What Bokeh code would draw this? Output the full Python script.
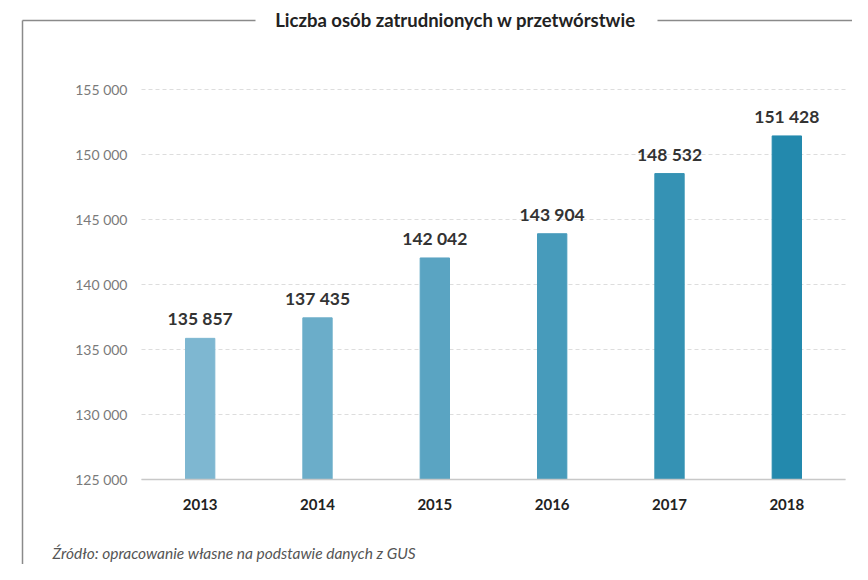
from bokeh.plotting import figure
from bokeh.models import (ColumnDataSource, FixedTicker, Label, PolyAnnotation, Range1d, LinearAxis)
from bokeh.core.properties import value
from bokeh.embed import file_html
from bokeh.resources import INLINE

years = ["2013", "2014", "2015", "2016", "2017", "2018"]
employed = [135857, 137435, 142042, 143904, 148532, 151428]
value_labels = ["135 857", "137 435", "142 042", "143 904", "148 532", "151 428"]
bar_colors = ["#7eb7d1", "#6badc9", "#5aa4c2", "#479bbb", "#3592b4", "#2389ad"]
y_ticks = [125000, 130000, 135000, 140000, 145000, 150000, 155000]
y_tick_labels = ["125 000", "130 000", "135 000", "140 000", "145 000", "150 000", "155 000"]
title_text = "Liczba osób zatrudnionych w przetwórstwie"
source_text = "Źródło: opracowanie własne na podstawie danych z GUS"

FONT = "Lato"
W, H = 852, 564

# layout of the plotting area (canvas pixels)
PL, PR, PB = 141, 845, 479          # plot left / right / baseline
PX_PER_VAL = 0.013                  # px per person
cat_w = (PR - PL) / len(years)

x_idx = list(range(len(years)))
x_start = -0.5 - PL / cat_w
x_end = -0.5 + (W - PL) / cat_w
y_base = y_ticks[0]
y_start = y_base - (H - PB) / PX_PER_VAL
y_end = y_base + PB / PX_PER_VAL

src = ColumnDataSource(dict(x=x_idx, val=employed, lab=value_labels, col=bar_colors,
                            base=[y_base] * len(years)))

p = figure(x_range=Range1d(x_start, x_end), y_range=Range1d(y_start, y_end), width=W, height=H,
           output_backend="svg", toolbar_location=None, x_axis_location=None, y_axis_location=None,
           min_border=0)
p.outline_line_color = None
p.grid.visible = False
p.background_fill_color = "white"
p.border_fill_color = "white"

# dashed horizontal grid lines over the plot area
p.segment(x0=[x_idx[0] - 0.5] * len(y_ticks), x1=[x_idx[-1] + 0.5] * len(y_ticks),
          y0=y_ticks, y1=y_ticks, line_color="#dddddd", line_dash="4 3", line_width=1)

p.vbar(x="x", top="val", bottom="base", width=0.25, fill_color="col", line_color="col", source=src)
p.text(x="x", y="val", text="lab", source=src, text_align="center", text_baseline="bottom",
       y_offset=-9, text_font=value(FONT), text_font_size="17.5px", text_font_style="bold",
       text_color="#333333")

# y axis
yax = LinearAxis(fixed_location=x_idx[0] - 0.5, ticker=FixedTicker(ticks=y_ticks))
yax.major_label_overrides = {t: l for t, l in zip(y_ticks, y_tick_labels)}
yax.axis_line_color = None
yax.major_tick_line_color = None
yax.major_tick_out = 0
yax.major_tick_in = 0
yax.minor_tick_line_color = None
yax.major_label_standoff = 14
yax.major_label_text_font = FONT
yax.major_label_text_font_size = "14px"
yax.major_label_text_color = "#7a7a7a"
p.add_layout(yax, "left")

# x axis (categories)
xax = LinearAxis(fixed_location=y_base, ticker=FixedTicker(ticks=x_idx),
                 bounds=(x_idx[0] - 0.5, x_idx[-1] + 0.5))
xax.major_label_overrides = {i: y for i, y in zip(x_idx, years)}
xax.axis_line_color = "#c8c8c8"
xax.axis_line_width = 1.5
xax.major_tick_line_color = None
xax.major_tick_out = 0
xax.major_tick_in = 0
xax.minor_tick_line_color = None
xax.major_label_standoff = 19
xax.major_label_text_font = FONT
xax.major_label_text_font_size = "15px"
xax.major_label_text_font_style = "bold"
xax.major_label_text_color = "#222222"
p.add_layout(xax, "below")

# title, source and frame lines (screen units: from left, up from bottom)
p.add_layout(Label(x=455, y=H - 19, x_units="screen", y_units="screen", text=title_text,
                   text_align="center", text_baseline="middle", text_font=FONT,
                   text_font_size="18.5px", text_font_style="bold", text_color="#222222"))
p.add_layout(Label(x=52, y=H - 552, x_units="screen", y_units="screen", text=source_text,
                   text_align="left", text_baseline="middle", text_font=FONT,
                   text_font_size="15.5px", text_font_style="italic", text_color="#555555"))
for xs, ys in [([22, 255], [H - 20, H - 20]), ([657, W], [H - 20, H - 20]), ([22, 22], [H - 20, 0])]:
    p.add_layout(PolyAnnotation(xs=xs, ys=ys, xs_units="screen", ys_units="screen",
                                line_color="#8a8a8a", line_alpha=1.0, line_width=1.5,
                                fill_color=None))

open("out.html", "w").write(file_html(p, INLINE))
